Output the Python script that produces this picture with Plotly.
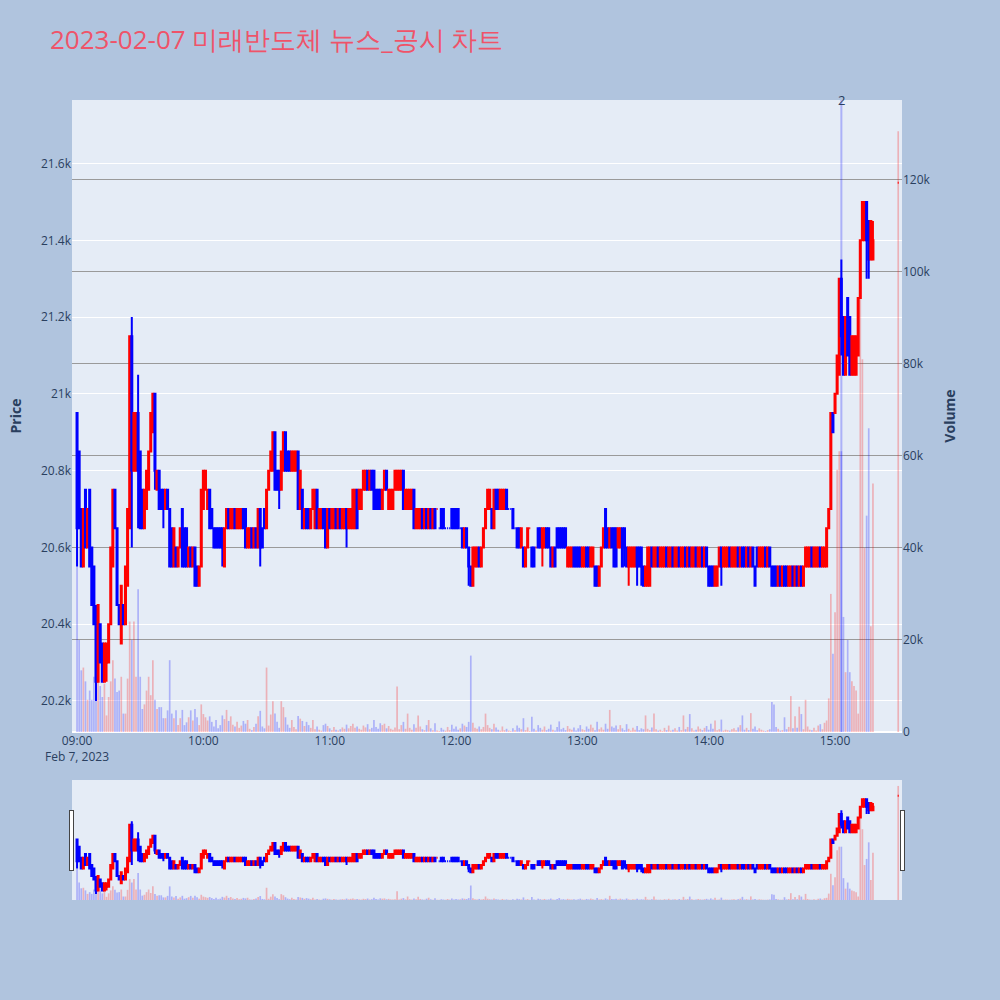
"""미래반도체 1-minute news/disclosure chart: candles + volume + range slider."""
import pandas as pd
import plotly.graph_objects as go

TITLE = '2023-02-07 미래반도체 뉴스_공시 차트'
TRADE_DAY = '2023-02-07'

# one row per 10 minutes, 09:00 .. 15:18, last value is the 15:30 closing auction
open_prices = [
    20950, 20850, 20700, 20550, 20750, 20600, 20750, 20600, 20550, 20400,
    20250, 20400, 20350, 20250, 20300, 20300, 20400, 20550, 20750, 20650,
    20450, 20350, 20450, 20400, 20500, 20650, 21150, 20800, 20800, 20950,
    20850, 20750, 20650, 20700, 20750, 20850, 20900, 21000, 20750, 20800,
    20750, 20750, 20700, 20750, 20700, 20650, 20550, 20600, 20550, 20600,
    20700, 20650, 20650, 20550, 20600, 20550, 20600, 20550, 20500, 20550,
    20700, 20750, 20700, 20750, 20700, 20650, 20650, 20650, 20650, 20650,
    20550, 20650, 20700, 20650, 20650, 20700, 20650, 20650, 20650, 20700,
    20700, 20600, 20600, 20650, 20600, 20650, 20600, 20700, 20650, 20700,
    20650, 20750, 20800, 20800, 20900, 20800, 20800, 20750, 20800, 20900,
    20850, 20850, 20800, 20800, 20800, 20850, 20700, 20750, 20650, 20700,
    20700, 20650, 20700, 20650, 20750, 20650, 20650, 20700, 20700, 20600,
    20700, 20650, 20650, 20700, 20650, 20700, 20650, 20650, 20700, 20650,
    20650, 20650, 20650, 20750, 20700, 20700, 20750, 20750, 20800, 20750,
    20800, 20800, 20750, 20750, 20750, 20700, 20750, 20800, 20700, 20700,
    20700, 20750, 20750, 20750, 20750, 20800, 20700, 20700, 20700, 20700,
    20750, 20650, 20650, 20650, 20700, 20650, 20700, 20650, 20700, 20650,
    20700, 20700, 20650, 20700, 20700, 20650, 20650, 20650, 20700, 20700,
    20700, 20700, 20650, 20650, 20600, 20650, 20600, 20550, 20500, 20550,
    20550, 20600, 20550, 20600, 20650, 20700, 20700, 20700, 20650, 20750,
    20750, 20700, 20700, 20700, 20750, 20700, 20700, 20700, 20650, 20650,
    20650, 20600, 20600, 20550, 20600, 20650, 20600, 20600, 20600, 20650,
    20650, 20600, 20600, 20650, 20650, 20600, 20550, 20600, 20650, 20650,
    20650, 20650, 20650, 20550, 20550, 20550, 20600, 20600, 20600, 20600,
    20550, 20550, 20600, 20600, 20550, 20550, 20550, 20550, 20500, 20550,
    20600, 20700, 20650, 20600, 20650, 20650, 20650, 20600, 20600, 20650,
    20650, 20600, 20550, 20550, 20550, 20550, 20600, 20600, 20600, 20550,
    20500, 20500, 20500, 20600, 20550, 20550, 20600, 20550, 20550, 20550,
    20600, 20550, 20550, 20600, 20550, 20550, 20600, 20550, 20550, 20600,
    20550, 20600, 20550, 20550, 20600, 20550, 20550, 20600, 20550, 20600,
    20550, 20550, 20550, 20500, 20500, 20550, 20600, 20550, 20550, 20550,
    20600, 20550, 20550, 20550, 20600, 20550, 20600, 20600, 20550, 20600,
    20550, 20600, 20550, 20600, 20550, 20550, 20550, 20600, 20550, 20600,
    20550, 20550, 20550, 20500, 20550, 20500, 20550, 20550, 20500, 20500,
    20550, 20500, 20550, 20500, 20550, 20500, 20550, 20550, 20550, 20600,
    20550, 20550, 20550, 20600, 20550, 20550, 20550, 20650, 20700, 20950,
    20950, 21000, 21050, 21300, 21200, 21050, 21250, 21200, 21050, 21050,
    21050, 21100, 21250, 21400, 21400, 21500, 21450, 21350, 21350,
    21550,
]
high_prices = [
    20950, 20850, 20700, 20700, 20750, 20700, 20750, 20600, 20550, 20450,
    20450, 20400, 20350, 20350, 20350, 20400, 20600, 20750, 20750, 20650,
    20450, 20500, 20450, 20550, 20700, 21150, 21200, 20950, 20950, 21050,
    20850, 20750, 20750, 20800, 20850, 20950, 21000, 21000, 20800, 20800,
    20750, 20750, 20750, 20750, 20700, 20650, 20650, 20600, 20600, 20650,
    20700, 20650, 20650, 20600, 20600, 20600, 20600, 20550, 20550, 20750,
    20800, 20800, 20750, 20750, 20700, 20650, 20650, 20650, 20650, 20650,
    20650, 20700, 20700, 20700, 20700, 20700, 20700, 20700, 20700, 20700,
    20700, 20650, 20650, 20650, 20650, 20650, 20700, 20700, 20650, 20700,
    20750, 20800, 20850, 20900, 20900, 20800, 20800, 20850, 20900, 20900,
    20850, 20850, 20850, 20850, 20850, 20850, 20800, 20750, 20700, 20700,
    20700, 20700, 20750, 20750, 20750, 20700, 20700, 20700, 20700, 20700,
    20700, 20700, 20700, 20700, 20700, 20700, 20700, 20700, 20700, 20700,
    20700, 20750, 20750, 20750, 20750, 20750, 20800, 20800, 20800, 20800,
    20800, 20800, 20750, 20750, 20750, 20750, 20800, 20800, 20750, 20750,
    20750, 20800, 20800, 20800, 20800, 20800, 20750, 20750, 20750, 20750,
    20750, 20700, 20700, 20700, 20700, 20700, 20700, 20700, 20700, 20700,
    20700, 20700, 20650, 20700, 20700, 20650, 20650, 20650, 20700, 20700,
    20700, 20700, 20650, 20650, 20650, 20650, 20600, 20550, 20600, 20600,
    20600, 20600, 20600, 20650, 20700, 20750, 20750, 20700, 20750, 20750,
    20750, 20750, 20750, 20750, 20750, 20700, 20700, 20700, 20650, 20650,
    20650, 20650, 20600, 20600, 20650, 20650, 20600, 20600, 20600, 20650,
    20650, 20650, 20650, 20650, 20650, 20600, 20600, 20600, 20650, 20650,
    20650, 20650, 20650, 20600, 20600, 20600, 20600, 20600, 20600, 20600,
    20600, 20600, 20600, 20600, 20600, 20600, 20550, 20550, 20550, 20600,
    20650, 20700, 20650, 20650, 20650, 20650, 20650, 20650, 20650, 20650,
    20650, 20600, 20600, 20600, 20600, 20600, 20600, 20600, 20600, 20550,
    20550, 20600, 20600, 20600, 20600, 20600, 20600, 20600, 20600, 20600,
    20600, 20600, 20600, 20600, 20600, 20600, 20600, 20600, 20600, 20600,
    20600, 20600, 20600, 20600, 20600, 20600, 20600, 20600, 20600, 20600,
    20550, 20550, 20550, 20550, 20550, 20600, 20600, 20600, 20600, 20600,
    20600, 20600, 20600, 20600, 20600, 20600, 20600, 20600, 20600, 20600,
    20600, 20600, 20550, 20600, 20600, 20600, 20600, 20600, 20600, 20600,
    20550, 20550, 20550, 20550, 20550, 20550, 20550, 20550, 20550, 20550,
    20550, 20550, 20550, 20550, 20550, 20550, 20600, 20600, 20600, 20600,
    20600, 20600, 20600, 20600, 20600, 20600, 20650, 20700, 20950, 20950,
    21000, 21100, 21300, 21350, 21200, 21200, 21250, 21200, 21150, 21150,
    21150, 21250, 21400, 21500, 21500, 21500, 21450, 21450, 21450,
    21550,
]
low_prices = [
    20550, 20650, 20550, 20550, 20600, 20600, 20550, 20450, 20400, 20200,
    20250, 20300, 20250, 20250, 20250, 20300, 20400, 20550, 20650, 20450,
    20400, 20350, 20400, 20400, 20500, 20650, 20600, 20800, 20800, 20650,
    20650, 20650, 20650, 20700, 20750, 20850, 20900, 20750, 20750, 20700,
    20700, 20650, 20700, 20700, 20550, 20550, 20550, 20550, 20550, 20600,
    20550, 20550, 20550, 20550, 20550, 20550, 20500, 20500, 20500, 20550,
    20700, 20750, 20700, 20650, 20650, 20600, 20600, 20600, 20600, 20550,
    20550, 20650, 20650, 20650, 20650, 20650, 20650, 20650, 20650, 20650,
    20600, 20600, 20600, 20600, 20600, 20600, 20600, 20550, 20600, 20650,
    20650, 20750, 20800, 20800, 20750, 20750, 20700, 20750, 20800, 20800,
    20800, 20800, 20800, 20800, 20800, 20700, 20700, 20650, 20650, 20650,
    20650, 20650, 20700, 20650, 20650, 20650, 20650, 20650, 20600, 20600,
    20650, 20650, 20650, 20650, 20650, 20650, 20650, 20650, 20600, 20650,
    20650, 20650, 20650, 20650, 20700, 20700, 20750, 20750, 20750, 20750,
    20750, 20700, 20700, 20700, 20700, 20700, 20750, 20750, 20700, 20700,
    20700, 20750, 20750, 20750, 20750, 20700, 20700, 20700, 20700, 20700,
    20650, 20650, 20650, 20650, 20650, 20650, 20650, 20650, 20650, 20650,
    20650, 20700, 20650, 20650, 20650, 20650, 20650, 20650, 20650, 20650,
    20650, 20650, 20650, 20600, 20600, 20600, 20500, 20500, 20500, 20550,
    20550, 20550, 20550, 20600, 20650, 20700, 20700, 20650, 20650, 20700,
    20700, 20700, 20700, 20700, 20700, 20700, 20700, 20650, 20650, 20600,
    20600, 20600, 20550, 20550, 20600, 20650, 20550, 20550, 20600, 20600,
    20600, 20550, 20600, 20600, 20600, 20550, 20550, 20550, 20600, 20600,
    20600, 20600, 20600, 20550, 20550, 20550, 20550, 20550, 20550, 20550,
    20550, 20550, 20550, 20550, 20550, 20550, 20500, 20500, 20500, 20550,
    20600, 20600, 20600, 20600, 20600, 20550, 20550, 20600, 20600, 20550,
    20550, 20550, 20500, 20550, 20550, 20550, 20500, 20550, 20500, 20500,
    20500, 20500, 20500, 20550, 20550, 20550, 20550, 20550, 20550, 20550,
    20550, 20550, 20550, 20550, 20550, 20550, 20550, 20550, 20550, 20550,
    20550, 20550, 20550, 20550, 20550, 20550, 20550, 20550, 20550, 20550,
    20500, 20500, 20500, 20500, 20500, 20550, 20500, 20550, 20550, 20550,
    20550, 20550, 20550, 20550, 20550, 20550, 20550, 20550, 20550, 20550,
    20550, 20550, 20500, 20550, 20550, 20550, 20550, 20550, 20550, 20550,
    20500, 20500, 20500, 20500, 20500, 20500, 20500, 20500, 20500, 20500,
    20500, 20500, 20500, 20500, 20500, 20500, 20550, 20550, 20550, 20550,
    20550, 20550, 20550, 20550, 20550, 20550, 20550, 20650, 20700, 20900,
    20950, 21000, 21050, 21100, 21050, 21050, 21100, 21050, 21050, 21050,
    21050, 21100, 21250, 21400, 21400, 21300, 21300, 21350, 21350,
    21550,
]
close_prices = [
    20650, 20650, 20550, 20700, 20600, 20700, 20550, 20450, 20400, 20250,
    20450, 20300, 20250, 20350, 20350, 20400, 20600, 20750, 20650, 20450,
    20400, 20500, 20400, 20550, 20700, 21150, 20800, 20950, 20950, 20800,
    20650, 20650, 20750, 20800, 20850, 20950, 21000, 20800, 20800, 20700,
    20700, 20700, 20750, 20700, 20550, 20550, 20650, 20550, 20600, 20650,
    20550, 20550, 20550, 20600, 20550, 20600, 20500, 20500, 20550, 20750,
    20800, 20800, 20750, 20650, 20650, 20600, 20600, 20600, 20600, 20600,
    20650, 20700, 20650, 20700, 20700, 20650, 20700, 20700, 20700, 20650,
    20600, 20650, 20650, 20600, 20650, 20600, 20700, 20600, 20600, 20650,
    20750, 20800, 20850, 20900, 20750, 20750, 20750, 20850, 20900, 20800,
    20800, 20800, 20850, 20850, 20850, 20700, 20800, 20650, 20700, 20650,
    20650, 20700, 20750, 20750, 20650, 20700, 20700, 20650, 20600, 20700,
    20650, 20700, 20700, 20650, 20700, 20650, 20700, 20700, 20650, 20700,
    20700, 20750, 20750, 20650, 20750, 20750, 20800, 20800, 20750, 20800,
    20750, 20700, 20700, 20700, 20700, 20750, 20800, 20750, 20750, 20750,
    20750, 20800, 20800, 20800, 20800, 20700, 20750, 20750, 20750, 20750,
    20650, 20700, 20700, 20700, 20650, 20700, 20650, 20700, 20650, 20700,
    20650, 20700, 20650, 20650, 20650, 20650, 20650, 20650, 20650, 20650,
    20650, 20650, 20650, 20600, 20650, 20600, 20550, 20500, 20600, 20600,
    20600, 20550, 20600, 20650, 20700, 20750, 20750, 20650, 20750, 20700,
    20700, 20750, 20750, 20750, 20700, 20700, 20700, 20650, 20650, 20600,
    20600, 20650, 20550, 20600, 20650, 20650, 20550, 20550, 20600, 20600,
    20600, 20650, 20650, 20600, 20600, 20550, 20600, 20550, 20600, 20600,
    20600, 20600, 20600, 20600, 20600, 20600, 20550, 20550, 20550, 20550,
    20600, 20600, 20550, 20550, 20600, 20600, 20500, 20500, 20550, 20600,
    20650, 20600, 20600, 20650, 20600, 20550, 20550, 20650, 20650, 20550,
    20600, 20550, 20600, 20600, 20600, 20600, 20550, 20550, 20550, 20500,
    20550, 20600, 20600, 20550, 20600, 20600, 20550, 20600, 20600, 20600,
    20550, 20600, 20600, 20550, 20600, 20600, 20550, 20600, 20600, 20550,
    20600, 20550, 20600, 20600, 20550, 20600, 20600, 20550, 20600, 20550,
    20500, 20500, 20500, 20550, 20550, 20600, 20550, 20600, 20600, 20600,
    20550, 20600, 20600, 20600, 20550, 20600, 20550, 20550, 20600, 20550,
    20600, 20550, 20500, 20550, 20600, 20600, 20600, 20550, 20600, 20550,
    20500, 20500, 20500, 20550, 20500, 20550, 20500, 20500, 20550, 20550,
    20500, 20550, 20500, 20550, 20500, 20550, 20600, 20600, 20600, 20550,
    20600, 20600, 20600, 20550, 20600, 20600, 20650, 20700, 20950, 20900,
    21000, 21100, 21300, 21150, 21050, 21200, 21100, 21050, 21150, 21150,
    21150, 21250, 21400, 21500, 21500, 21400, 21350, 21450, 21400,
    21550,
]
volumes = [
    36000, 20000, 13400, 14000, 11000, 7000, 9000, 7000, 12000, 15600,
    11000, 10000, 7600, 10500, 3600, 7600, 11000, 15600, 11600, 8700,
    9000, 12000, 4000, 4000, 11600, 24000, 20000, 24000, 12000, 31000,
    12000, 5000, 6000, 9000, 12000, 8000, 15600, 7000, 5000, 5400,
    5400, 3000, 3000, 4700, 15600, 4000, 3000, 4700, 1500, 3000,
    4800, 1500, 2100, 3200, 4700, 2500, 5000, 3200, 1500, 6000,
    3900, 3200, 2500, 3400, 2200, 1200, 2600, 800, 1500, 3600,
    2800, 4800, 2400, 3400, 1600, 1200, 2200, 900, 1400, 2400,
    1800, 2600, 700, 400, 1100, 1800, 3400, 4600, 1200, 800,
    14000, 1400, 3800, 6700, 4000, 2200, 900, 6700, 5400, 3200,
    1600, 900, 2600, 1100, 600, 3500, 2900, 2400, 1300, 2200,
    1500, 900, 2600, 600, 1200, 500, 300, 1500, 1800, 1300,
    800, 400, 1100, 500, 300, 600, 1000, 700, 1600, 800,
    1300, 1800, 900, 1200, 700, 500, 1400, 1000, 1700, 600,
    900, 2600, 1100, 700, 1900, 1500, 1800, 800, 1300, 700,
    500, 1000, 9900, 600, 1500, 2200, 700, 4000, 900, 500,
    1700, 900, 3600, 1200, 600, 400, 1500, 2600, 800, 400,
    1900, 300, 200, 900, 500, 300, 1100, 400, 1600, 700,
    1200, 500, 800, 1800, 1400, 1100, 2200, 16600, 2000, 900,
    700, 1200, 600, 1100, 4000, 1500, 900, 600, 1800, 1000,
    500, 300, 1200, 400, 700, 300, 200, 800, 400, 1400,
    900, 600, 3000, 400, 1000, 200, 3300, 700, 300, 1500,
    900, 500, 1200, 400, 700, 1600, 500, 300, 1100, 2300,
    600, 900, 400, 1300, 700, 500, 1000, 300, 800, 1500,
    600, 400, 1200, 700, 1600, 900, 400, 2200, 600, 1000,
    500, 1800, 700, 4800, 1200, 900, 1400, 600, 1500, 800,
    400, 1700, 700, 300, 900, 500, 1300, 400, 800, 600,
    3600, 700, 400, 1000, 4000, 600, 300, 500, 200, 900,
    400, 1400, 300, 500, 800, 300, 1100, 400, 3600, 600,
    1100, 3900, 800, 300, 500, 1200, 700, 400, 900, 1300,
    500, 1800, 700, 2500, 400, 600, 2700, 300, 500, 400,
    300, 600, 800, 400, 1000, 1500, 3600, 500, 900, 400,
    4100, 700, 1200, 400, 800, 500, 300, 200, 400, 600,
    6500, 6000, 1100, 700, 300, 400, 3200, 600, 1100, 7800,
    800, 3400, 900, 5500, 3900, 600, 7000, 1200, 500, 400,
    900, 300, 1400, 1700, 600, 2000, 2500, 7300, 30000, 17000,
    26000, 57000, 61000, 61000, 25000, 13000, 20000, 13000, 11000, 10000,
    9000, 4000, 94000, 81000, 40000, 47000, 66000, 23000, 54000,
    130500,
]

news_time = f'{TRADE_DAY} 15:03'
news_count = 2

n = len(close_prices)
assert all(len(a) == n for a in (open_prices, high_prices, low_prices, volumes)), \
    [len(a) for a in (open_prices, high_prices, low_prices, close_prices, volumes)]

# continuous session minutes, then the 15:30 closing print
times = list(pd.date_range(f'{TRADE_DAY} 09:00', periods=n - 1, freq='min'))
times.append(pd.Timestamp(f'{TRADE_DAY} 15:30'))

UP, DOWN = 'red', 'blue'
vol_colors = ['rgba(255,0,0,0.25)' if c >= o else 'rgba(0,0,255,0.25)'
              for o, c in zip(open_prices, close_prices)]

fig = go.Figure()
fig.add_trace(go.Candlestick(
    x=times, open=open_prices, high=high_prices, low=low_prices, close=close_prices,
    increasing=dict(line=dict(color=UP), fillcolor=UP),
    decreasing=dict(line=dict(color=DOWN), fillcolor=DOWN),
    name='Price',
))
fig.add_trace(go.Bar(
    x=times, y=volumes, yaxis='y2', name='Volume',
    marker=dict(color=vol_colors, line_width=0),
))

# news / disclosure marker
fig.add_shape(type='line', x0=news_time, x1=news_time, xref='x', y0=0, y1=1, yref='paper',
              line=dict(color='rgba(0,0,255,0.25)', width=2))
fig.add_annotation(x=news_time, y=1, xref='x', yref='paper', text=str(news_count),
                   showarrow=False, yanchor='middle', font=dict(size=13, color='#2a3f5f'))

x_range = [f'{TRADE_DAY} 08:57:36', f'{TRADE_DAY} 15:31:48']
fig.update_layout(
    width=1000, height=1000,
    paper_bgcolor='lightsteelblue',
    title=dict(text=TITLE, x=0.05, y=0.96, yref='container', yanchor='middle',
               font=dict(size=26, color='#EF5369')),
    margin=dict(l=72, r=98, t=100, b=100),
    showlegend=False,
    xaxis=dict(type='date', range=x_range, showgrid=False,
               rangeslider=dict(visible=True, range=x_range, bgcolor='#E5ECF6')),
    yaxis=dict(title=dict(text='<b>Price</b>', standoff=16), range=[20119.2, 21765.5]),
    yaxis2=dict(title=dict(text='<b>Volume</b>'), overlaying='y', side='right',
                range=[0, 137300], showgrid=True, gridcolor='#9a9a9a'),
)

# page without the default body margin so the figure fills the window
fig.write_html('out.html', config={'displayModeBar': False},
               post_script="document.body.style.margin='0';")
